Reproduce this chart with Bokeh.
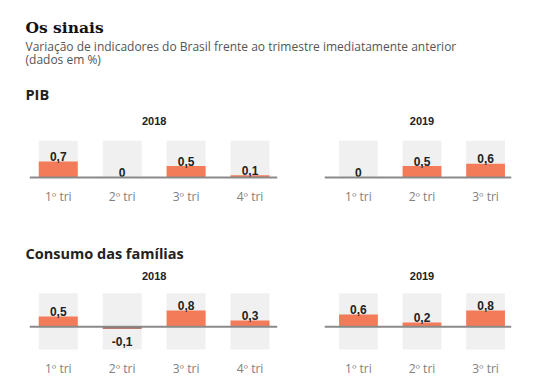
from bokeh.plotting import figure
from bokeh.layouts import column, row
from bokeh.models import Range1d, FixedTicker, Span, ColumnDataSource
from bokeh.core.properties import value
from bokeh.embed import file_html
from bokeh.resources import INLINE

# ---- data ----
title = "Os sinais"
subtitle1 = "Variação de indicadores do Brasil frente ao trimestre imediatamente anterior"
subtitle2 = "(dados em %)"
section_pib = "PIB"
section_cons = "Consumo das famílias"

quarters_2018 = ["1º tri", "2º tri", "3º tri", "4º tri"]
quarters_2019 = ["1º tri", "2º tri", "3º tri"]

pib_2018 = [0.7, 0.0, 0.5, 0.1]
pib_2019 = [0.0, 0.5, 0.6]
cons_2018 = [0.5, -0.1, 0.8, 0.3]
cons_2019 = [0.6, 0.2, 0.8]

# ---- style ----
ORANGE = "#F37B59"
BROWN = "#A35646"
BOXGRAY = "#F0F0F0"
LINE = "#8a8a8a"
SANS = "Open Sans"
NUMF = "Liberation Sans"
W = 531


def fmt(v):
    if v == 0:
        return "0"
    return ("%g" % v).replace(".", ",")


def header(height, items):
    p = figure(width=W, height=height, x_range=Range1d(0, W), y_range=Range1d(height, 0),
               toolbar_location=None, output_backend="svg", min_border=0)
    p.axis.visible = False
    p.grid.visible = False
    p.outline_line_color = None
    for (txt, x, y, font, size, style, color) in items:
        p.text(x=[x], y=[y], text=[txt], text_font=value(font), text_font_size=size,
               text_font_style=style, text_color=color, text_baseline="alphabetic",
               text_align="left")
    return p


def panel(year, cats, vals, width, ml, mr, xr, yr, height, mb, box_top, box_bot, year_y):
    p = figure(width=width, height=height, x_range=Range1d(*xr), y_range=Range1d(*yr),
               toolbar_location=None, output_backend="svg",
               min_border_left=ml, min_border_right=mr, min_border_top=0, min_border_bottom=mb)
    idx = list(range(len(cats)))
    p.yaxis.visible = False
    p.grid.visible = False
    p.outline_line_color = None
    p.xaxis.ticker = FixedTicker(ticks=idx)
    p.xaxis.major_label_overrides = {i: c for i, c in zip(idx, cats)}
    p.xaxis.axis_line_color = None
    p.xaxis.major_tick_line_color = None
    p.xaxis.minor_tick_line_color = None
    p.xaxis.major_tick_out = 0
    p.xaxis.major_tick_in = 0
    p.xaxis.major_label_standoff = 7
    p.xaxis.major_label_text_font = SANS
    p.xaxis.major_label_text_font_size = "12px"
    p.xaxis.major_label_text_color = "#808080"

    bw = 0.61
    p.vbar(x=idx, top=[box_top] * len(idx), bottom=[box_bot] * len(idx), width=bw,
           fill_color=BOXGRAY, line_color=None)
    colors = [ORANGE if v >= 0 else BROWN for v in vals]
    p.vbar(x=idx, top=vals, bottom=0, width=bw, fill_color=colors, line_color=None)
    p.add_layout(Span(location=0, dimension="width", line_color=LINE, line_width=2))

    pos = ColumnDataSource(dict(x=[i for i, v in zip(idx, vals) if v >= 0],
                                y=[v for v in vals if v >= 0],
                                t=[fmt(v) for v in vals if v >= 0]))
    neg = ColumnDataSource(dict(x=[i for i, v in zip(idx, vals) if v < 0],
                                y=[v for v in vals if v < 0],
                                t=[fmt(v) for v in vals if v < 0]))
    p.text(x="x", y="y", text="t", source=pos, text_font=value(NUMF), text_font_style="bold",
           text_font_size="12px", text_color="#222222", text_align="center",
           text_baseline="alphabetic", y_offset=-5)
    p.text(x="x", y="y", text="t", source=neg, text_font=value(NUMF), text_font_style="bold",
           text_font_size="12px", text_color="#222222", text_align="center",
           text_baseline="top", y_offset=8)
    p.text(x=[(len(idx) - 1) / 2], y=[year_y], text=[year], text_font=value(NUMF),
           text_font_style="bold", text_font_size="11px", text_color="#222222",
           text_align="center", text_baseline="middle")
    return p


head = header(110, [
    (title, 25, 27, "DejaVu Serif", "15.5px", "bold", "#111111"),
    (subtitle1, 25, 46, SANS, "12px", "normal", "#555555"),
    (subtitle2, 25, 59, SANS, "12px", "normal", "#555555"),
    (section_pib, 25, 94, SANS, "14.5px", "bold", "#222222"),
])
sec = header(52, [
    (section_cons, 25, 43, SANS, "14.5px", "bold", "#222222"),
])

PIB_S = 23.0
pib_yr = (-3 / PIB_S, 67 / PIB_S)
p1 = panel("2018", quarters_2018, pib_2018, 300, 29, 23, (-0.45, 3.43), pib_yr, 100, 30,
           1.6, 0, 57 / PIB_S)
p2 = panel("2019", quarters_2019, pib_2019, 231, 24, 20, (-0.534, 2.408), pib_yr, 100, 30,
           1.6, 0, 57 / PIB_S)

C_S = 21.2
c_yr = (-27 / C_S, 67 / C_S)
c1 = panel("2018", quarters_2018, cons_2018, 300, 29, 23, (-0.45, 3.43), c_yr, 117, 23,
           1.65, -1.13, 52.5 / C_S)
c2 = panel("2019", quarters_2019, cons_2019, 231, 24, 20, (-0.534, 2.408), c_yr, 117, 23,
           1.65, -1.13, 52.5 / C_S)

layout = column(head, row(p1, p2, spacing=0), sec, row(c1, c2, spacing=0), spacing=0)
open("out.html", "w").write(file_html(layout, INLINE))
